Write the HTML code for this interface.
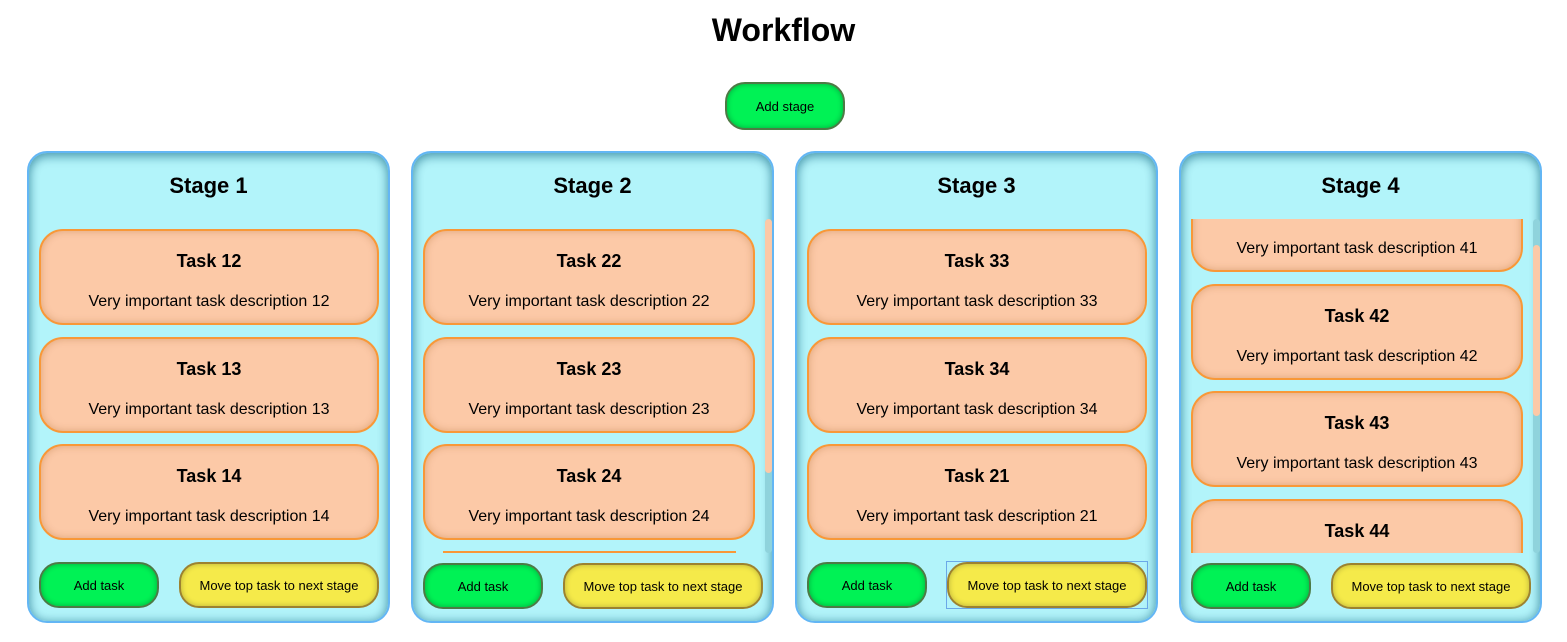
<!DOCTYPE html>
<html><head><meta charset="utf-8"><style>
*{box-sizing:border-box;margin:0;padding:0}
body{width:1567px;height:642px;background:#fff;position:relative;overflow:hidden;font-family:"Liberation Sans",sans-serif;color:#000}
.a{position:absolute}
h1{position:absolute;left:0;width:1567px;top:12px;text-align:center;font-size:32px;font-weight:bold}
.btn{position:absolute;border-radius:20px;display:flex;align-items:center;justify-content:center;font-size:13px;height:46px}
.g{background:#00f255;border:2px solid #4d7a45;box-shadow:inset 0 0 6px rgba(0,0,0,.3)}
.y{background:#f5ea4a;border:2px solid #9c8230;box-shadow:inset 0 0 6px rgba(0,0,0,.25)}
.stage{position:absolute;top:151px;width:363px;height:472px;background:#b2f4fa;border:2px solid #63b6f4;border-radius:20px;box-shadow:inset 0 4px 10px rgba(0,90,120,.4),inset 0 0 10px rgba(0,90,120,.35)}
.st{position:absolute;left:0;width:100%;top:20px;text-align:center;font-weight:bold;font-size:22px}
.task{position:absolute;height:96px;background:#fcc9a7;border:2px solid #f89838;border-radius:24px;box-shadow:inset 0 0 8px rgba(150,80,20,.3);text-align:center}
.task b{position:absolute;left:0;width:100%;top:20px;font-size:18px}
.task span{position:absolute;left:0;width:100%;top:62px;font-size:16px}
.clip{position:absolute;overflow:hidden}
.sb{position:absolute;width:7px;border-radius:4px}
</style></head><body>
<h1>Workflow</h1>
<div class="btn g" style="left:725px;top:82px;width:120px;height:48px">Add stage</div>

<!-- Stage 1 -->
<div class="stage" style="left:27px"><div class="st">Stage 1</div></div>
<div class="task" style="left:39px;top:229px;width:340px"><b>Task 12</b><span>Very important task description 12</span></div>
<div class="task" style="left:39px;top:337px;width:340px"><b>Task 13</b><span>Very important task description 13</span></div>
<div class="task" style="left:39px;top:444px;width:340px"><b>Task 14</b><span>Very important task description 14</span></div>
<div class="btn g" style="left:39px;top:562px;width:120px">Add task</div>
<div class="btn y" style="left:179px;top:562px;width:200px">Move top task to next stage</div>

<!-- Stage 2 -->
<div class="stage" style="left:411px"><div class="st">Stage 2</div></div>
<div class="clip" style="left:412px;top:219px;width:350px;height:334px">
<div class="task" style="left:11px;top:10px;width:332px"><b>Task 22</b><span>Very important task description 22</span></div>
<div class="task" style="left:11px;top:118px;width:332px"><b>Task 23</b><span>Very important task description 23</span></div>
<div class="task" style="left:11px;top:225px;width:332px"><b>Task 24</b><span>Very important task description 24</span></div>
</div>
<div class="a" style="left:443px;top:551px;width:293px;height:2px;background:#f89838"></div>
<div class="sb" style="left:765px;top:219px;height:334px;background:#8fd3dc"></div>
<div class="sb" style="left:765px;top:219px;height:254px;background:#fcc9a7"></div>
<div class="btn g" style="left:423px;top:563px;width:120px">Add task</div>
<div class="btn y" style="left:563px;top:563px;width:200px">Move top task to next stage</div>

<!-- Stage 3 -->
<div class="stage" style="left:795px"><div class="st">Stage 3</div></div>
<div class="task" style="left:807px;top:229px;width:340px"><b>Task 33</b><span>Very important task description 33</span></div>
<div class="task" style="left:807px;top:337px;width:340px"><b>Task 34</b><span>Very important task description 34</span></div>
<div class="task" style="left:807px;top:444px;width:340px"><b>Task 21</b><span>Very important task description 21</span></div>
<div class="btn g" style="left:807px;top:562px;width:120px">Add task</div>
<div class="a" style="left:946px;top:561px;width:202px;height:48px;border:1px solid #6aa8e8"></div>
<div class="btn y" style="left:947px;top:562px;width:200px">Move top task to next stage</div>

<!-- Stage 4 -->
<div class="stage" style="left:1179px"><div class="st">Stage 4</div></div>
<div class="clip" style="left:1180px;top:219px;width:350px;height:334px">
<div class="task" style="left:11px;top:-43px;width:332px"><b>Task 41</b><span>Very important task description 41</span></div>
<div class="task" style="left:11px;top:65px;width:332px"><b>Task 42</b><span>Very important task description 42</span></div>
<div class="task" style="left:11px;top:172px;width:332px"><b>Task 43</b><span>Very important task description 43</span></div>
<div class="task" style="left:11px;top:280px;width:332px"><b>Task 44</b><span>Very important task description 44</span></div>
</div>
<div class="sb" style="left:1533px;top:219px;height:334px;background:#8fd3dc"></div>
<div class="sb" style="left:1533px;top:245px;height:171px;background:#fcc9a7"></div>
<div class="btn g" style="left:1191px;top:563px;width:120px">Add task</div>
<div class="btn y" style="left:1331px;top:563px;width:200px">Move top task to next stage</div>
</body></html>
